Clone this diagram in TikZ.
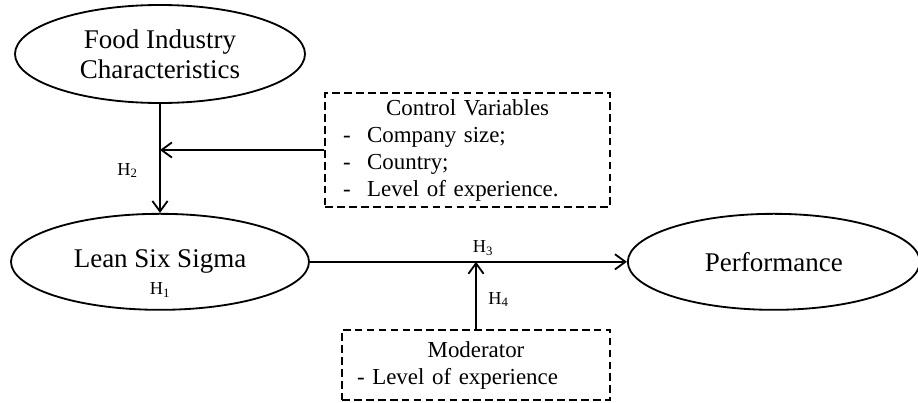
\documentclass[tikz,border=0pt]{standalone}
\usepackage{fontspec}
\setmainfont{Liberation Serif}
\usetikzlibrary{arrows.meta,positioning,shapes.geometric}
\tikzset{
  construct/.style={
    ellipse,
    draw=black,
    line width=1.3pt,
    inner sep=0pt,
    align=center,
    font=\fontsize{19.2}{21.3}\selectfont
  },
  varbox/.style={
    rectangle,
    draw=black,
    dash pattern=on 5.5pt off 3pt,
    line width=1pt,
    inner sep=0pt,
    align=left,
    font=\fontsize{16.3}{19.2}\selectfont
  },
  hyplabel/.style={inner sep=1pt, font=\fontsize{13}{14}\selectfont},
  patharrow/.style={-{Straight Barb[length=2.6mm,width=3.8mm]}, line width=1.3pt}
}

\begin{document}
\begin{tikzpicture}
\useasboundingbox (0,0) rectangle (22.95,-10.075);
\node[construct, minimum width=7.25cm, minimum height=2.45cm] (food) at (4.0,-1.35) {Food Industry\\Characteristics};
\node[construct, minimum width=7.45cm, minimum height=2.4cm, below=2.725cm of food] (lss) {Lean Six Sigma};
\node[construct, minimum width=7.3cm, minimum height=2.4cm, right=7.925cm of lss] (perf) {Performance};
\node[hyplabel] (h1) at ([yshift=-0.7cm]lss.center) {H\textsubscript{1}};
\node[varbox, text width=7.125cm, minimum height=2.85cm] (ctrl) at (11.69,-3.75)
  {\makebox[\hsize]{Control Variables}\\
   \hspace*{0.45cm}\makebox[0.6cm][l]{-}Company size;\\
   \hspace*{0.45cm}\makebox[0.6cm][l]{-}Country;\\
   \hspace*{0.45cm}\makebox[0.6cm][l]{-}Level of experience.};
\node[varbox, text width=6.7cm, minimum height=1.75cm] (mod) at (11.9,-9.125)
  {\makebox[\hsize]{Moderator}\\
   \hspace*{0.375cm}- Level of experience};
\coordinate (ctrlhit) at (food.south |- ctrl.west);
\coordinate (modhit) at (mod.north |- lss.east);
\draw[patharrow] (food) -- node[hyplabel, pos=0.61, left=0.5cm] {H\textsubscript{2}} (lss);
\draw[patharrow] (ctrl) -- (ctrlhit);
\draw[patharrow] (lss) -- node[hyplabel, pos=0.546, above=0.1cm] {H\textsubscript{3}} (perf);
\draw[patharrow] (mod) -- node[hyplabel, pos=0.44, right=0.25cm] {H\textsubscript{4}} (modhit);
\end{tikzpicture}
\end{document}
